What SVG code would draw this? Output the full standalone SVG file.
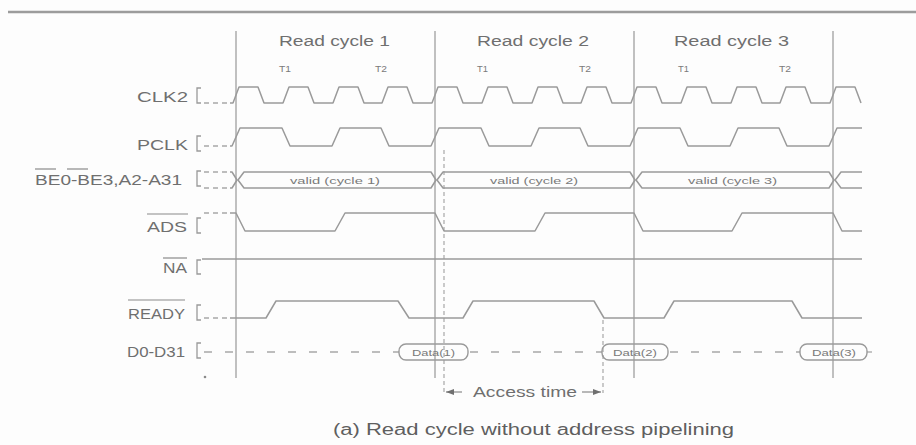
<svg xmlns="http://www.w3.org/2000/svg" width="916" height="445" viewBox="0 0 916 445">
<defs>
<style>
.w{fill:none;stroke:#9a9a9a;stroke-width:1.5;stroke-linejoin:round}
.ld{fill:none;stroke:#a8a8a8;stroke-width:1.3;stroke-dasharray:5 4}
.dd{fill:none;stroke:#a8a8a8;stroke-width:1.3;stroke-dasharray:8 13}
.br{fill:none;stroke:#9a9a9a;stroke-width:1.3}
.t{font-family:"Liberation Sans",Arial,sans-serif;fill:#6f6f6f;font-size:14px}
.s{font-family:"Liberation Sans",Arial,sans-serif;fill:#7a7a7a;font-size:9px}
.ol{stroke:#8a8a8a;stroke-width:1.2}
.vl{stroke:#a0a0a0;stroke-width:1.3}
.dv{stroke:#a8a8a8;stroke-width:1.2;stroke-dasharray:4 3}
.bub{fill:none;stroke:#9a9a9a;stroke-width:1.4}
</style>
<marker id="ah" viewBox="0 0 8 6" refX="8" refY="3" markerWidth="8" markerHeight="6" markerUnits="userSpaceOnUse" orient="auto">
<path d="M0,0 L8,3 L0,6 Z" fill="#6f6f6f"/>
</marker>
</defs>
<rect x="0" y="0" width="916" height="445" fill="#fdfdfd"/>

<g id="connectors">
<line class="vl" x1="236" y1="31" x2="236" y2="378"/>
<line class="vl" x1="435" y1="31" x2="435" y2="378"/>
<line class="vl" x1="634" y1="31" x2="634" y2="378"/>
<line class="vl" x1="833" y1="31" x2="833" y2="378"/>
<line class="dv" x1="444" y1="150" x2="444" y2="393"/>
<line class="dv" x1="603" y1="320" x2="603" y2="393"/>
<line x1="462" y1="392" x2="446" y2="392" stroke="#8a8a8a" stroke-width="1.2" marker-end="url(#ah)"/>
<line x1="582" y1="392" x2="601" y2="392" stroke="#8a8a8a" stroke-width="1.2" marker-end="url(#ah)"/>
</g>

<g id="header">
<line x1="8" y1="12" x2="916" y2="12" stroke="#9c9c9c" stroke-width="2.5"/>
<text class="t" x="279" y="46" textLength="111" lengthAdjust="spacingAndGlyphs">Read cycle 1</text>
<text class="t" x="477" y="46" textLength="112" lengthAdjust="spacingAndGlyphs">Read cycle 2</text>
<text class="t" x="674" y="46" textLength="115" lengthAdjust="spacingAndGlyphs">Read cycle 3</text>
<text class="s" x="279" y="72" textLength="12" lengthAdjust="spacingAndGlyphs">T1</text>
<text class="s" x="375" y="72" textLength="12" lengthAdjust="spacingAndGlyphs">T2</text>
<text class="s" x="477" y="72" textLength="11" lengthAdjust="spacingAndGlyphs">T1</text>
<text class="s" x="579" y="72" textLength="12" lengthAdjust="spacingAndGlyphs">T2</text>
<text class="s" x="678" y="72" textLength="11" lengthAdjust="spacingAndGlyphs">T1</text>
<text class="s" x="779" y="72" textLength="12" lengthAdjust="spacingAndGlyphs">T2</text>
</g>

<g id="clk2">
<text class="t" x="137" y="102" textLength="51" lengthAdjust="spacingAndGlyphs">CLK2</text>
<path class="br" d="M201,88 H197 V103 H201"/>
<line class="ld" x1="204" y1="103" x2="230" y2="103"/>
<path class="w" d="M230,103 H233 L239,87 H258 L264,103 H283 L289,87 H308 L314,103 H333 L339,87 H358 L364,103 H382 L388,87 H407 L413,103 H432 L438,87 H457 L463,103 H482 L488,87 H507 L513,103 H532 L538,87 H557 L563,103 H581 L587,87 H606 L612,103 H631 L637,87 H656 L662,103 H681 L687,87 H706 L712,103 H731 L737,87 H756 L762,103 H780 L786,87 H805 L811,103 H830 L836,87 H855 L861,103"/>
</g>

<g id="pclk">
<text class="t" x="137" y="150" textLength="51" lengthAdjust="spacingAndGlyphs">PCLK</text>
<path class="br" d="M201,136 H197 V151 H201"/>
<line class="ld" x1="204" y1="146" x2="230" y2="146"/>
<path class="w" d="M230,146 H232 L240,128 H282 L290,146 H332 L340,128 H381 L389,146 H431 L439,128 H481 L489,146 H531 L539,128 H580 L588,146 H630 L638,128 H680 L688,146 H730 L738,128 H779 L787,146 H829 L837,128 H862"/>
</g>

<g id="address">
<text class="t" x="35" y="185" textLength="147" lengthAdjust="spacingAndGlyphs">BE0-BE3,A2-A31</text>
<line class="ol" x1="35" y1="169" x2="56" y2="169"/>
<line class="ol" x1="67" y1="169" x2="88" y2="169"/>
<path class="br" d="M201,171 H197 V186 H201"/>
<line class="ld" x1="204" y1="172" x2="230" y2="172"/>
<line class="ld" x1="204" y1="188" x2="230" y2="188"/>
<path class="w" d="M230,172 H232 L237,180 L232,188 H230"/>
<path class="w" d="M244,172 L238,180 L244,188 H431 L436,180 L431,172 Z"/>
<path class="w" d="M443,172 L437,180 L443,188 H630 L635,180 L630,172 Z"/>
<path class="w" d="M642,172 L636,180 L642,188 H829 L834,180 L829,172 Z"/>
<path class="w" d="M862,172 H841 L835,180 L841,188 H862"/>
<text class="s" x="290" y="184" textLength="90" lengthAdjust="spacingAndGlyphs">valid (cycle 1)</text>
<text class="s" x="490" y="184" textLength="88" lengthAdjust="spacingAndGlyphs">valid (cycle 2)</text>
<text class="s" x="688" y="184" textLength="89" lengthAdjust="spacingAndGlyphs">valid (cycle 3)</text>
</g>

<g id="ads">
<text class="t" x="147" y="232" textLength="40" lengthAdjust="spacingAndGlyphs">ADS</text>
<line class="ol" x1="147" y1="214" x2="188" y2="214"/>
<path class="br" d="M201,218 H197 V233 H201"/>
<line class="ld" x1="204" y1="213" x2="230" y2="213"/>
<path class="w" d="M230,213 H236 L245,231 H335 L345,213 H435 L444,231 H535 L545,213 H634 L643,231 H732 L742,213 H833 L842,231 H862"/>
</g>

<g id="na">
<text class="t" x="163" y="273" textLength="24" lengthAdjust="spacingAndGlyphs">NA</text>
<line class="ol" x1="163" y1="258" x2="187" y2="258"/>
<path class="br" d="M201,260 H197 V274 H201"/>
<line class="w" x1="202" y1="259" x2="862" y2="259"/>
</g>

<g id="ready">
<text class="t" x="128" y="319" textLength="57" lengthAdjust="spacingAndGlyphs">READY</text>
<line class="ol" x1="128" y1="300" x2="185" y2="300"/>
<path class="br" d="M201,305 H197 V320 H201"/>
<line class="ld" x1="204" y1="318" x2="230" y2="318"/>
<path class="w" d="M230,318 H266 L276,301 H398 L409,318 H463 L473,301 H594 L604,318 H664 L674,301 H792 L802,318 H862"/>
</g>

<g id="data">
<text class="t" x="127" y="357" textLength="58" lengthAdjust="spacingAndGlyphs">D0-D31</text>
<path class="br" d="M201,343 H197 V358 H201"/>
<line class="dd" x1="204" y1="352" x2="399" y2="352"/>
<line class="dd" x1="470" y1="352" x2="602" y2="352"/>
<line class="dd" x1="670" y1="352" x2="800" y2="352"/>
<line x1="867" y1="352" x2="872" y2="352" stroke="#a8a8a8" stroke-width="1.3"/>
<rect class="bub" x="399" y="344" width="69" height="16" rx="7"/>
<rect class="bub" x="602" y="344" width="66" height="16" rx="7"/>
<rect class="bub" x="800" y="344" width="67" height="16" rx="7"/>
<text class="s" x="412" y="355.5" textLength="43" lengthAdjust="spacingAndGlyphs">Data(1)</text>
<text class="s" x="613" y="355.5" textLength="44" lengthAdjust="spacingAndGlyphs">Data(2)</text>
<text class="s" x="812" y="355.5" textLength="44" lengthAdjust="spacingAndGlyphs">Data(3)</text>
<circle cx="205" cy="377" r="1.3" fill="#8a8a8a"/>
</g>

<g id="access-time">
<text class="t" x="473" y="397" textLength="104" lengthAdjust="spacingAndGlyphs">Access time</text>
</g>

<g id="caption">
<text class="t" x="333" y="435" font-size="16" fill="#5f5f5f" textLength="401" lengthAdjust="spacingAndGlyphs" style="font-size:16px;fill:#5f5f5f">(a) Read cycle without address pipelining</text>
</g>
</svg>
